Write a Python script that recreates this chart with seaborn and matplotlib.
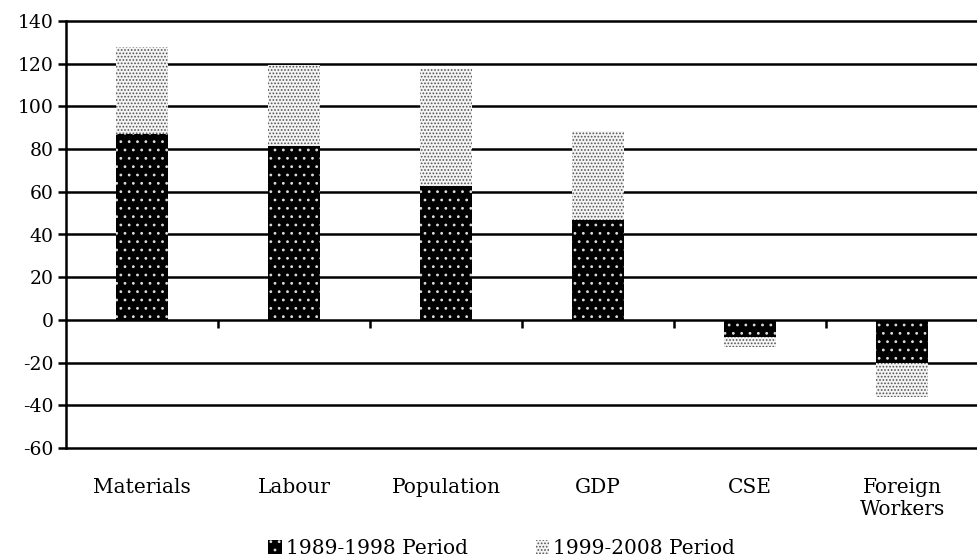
import numpy as np
import pandas as pd
import matplotlib
matplotlib.use("Agg")
import matplotlib.pyplot as plt
import seaborn as sns
from matplotlib.patches import Patch

# Chart data
categories = ["Materials", "Labour", "Population", "GDP", "CSE", "Foreign\nWorkers"]
period_1 = [87, 81.5, 62.5, 47, -8, -20]      # 1989-1998 Period
period_2 = [41, 38, 55, 41.5, -4.5, -16]      # 1999-2008 Period
y_ticks = list(range(-60, 141, 20))

df = pd.DataFrame({"category": categories, "p1": period_1, "p2": period_2})
df["total"] = df["p1"] + df["p2"]

sns.set_style("white")
plt.rcParams["font.family"] = ["DejaVu Serif"]
plt.rcParams["font.size"] = 13.5
plt.rcParams["text.color"] = "black"
plt.rcParams["xtick.color"] = "black"
plt.rcParams["ytick.color"] = "black"
plt.rcParams["axes.unicode_minus"] = False
plt.rcParams["hatch.linewidth"] = 0.8

fig = plt.figure(figsize=(9.78, 5.6), dpi=100)
ax = fig.add_axes([0.0675, 0.2, 0.9325, 0.7625])

# stacked look: draw the total first, then the first period over it
sns.barplot(data=df, x="category", y="total", width=0.34, color="#f4f4f4",
            edgecolor="#555555", linewidth=0, hatch=".....", ax=ax, zorder=3)
sns.barplot(data=df, x="category", y="p1", width=0.34, color="black",
            edgecolor="#dddddd", linewidth=0, hatch="..", ax=ax, zorder=4)
for p in ax.patches:
    p.set_linewidth(0)

ax.set_ylim(-60, 140)
ax.set_xlim(-0.5, len(categories) - 0.5)
ax.set_yticks(y_ticks)
ax.yaxis.grid(True, color="black", linewidth=1.8)
for gl in ax.get_ygridlines():
    gl.set_clip_on(False)
ax.set_axisbelow(True)
ax.set_xlabel("")
ax.set_ylabel("")

for side in ["top", "right", "bottom"]:
    ax.spines[side].set_visible(False)
ax.spines["left"].set_linewidth(1.8)
ax.spines["left"].set_color("black")

ax.tick_params(axis="y", length=6, width=1.8, color="black", left=True, pad=3,
               labelsize=13.5)
ax.tick_params(axis="x", length=0, pad=21.5, labelsize=14.5)

# small separator ticks on the zero line between categories
ax.vlines(np.arange(0.5, len(categories) - 0.5), -3.8, 0, color="black",
          linewidth=1.8, zorder=5)

handles = [Patch(facecolor="black", edgecolor="#dddddd", hatch="..", linewidth=0,
                 label="1989-1998 Period"),
           Patch(facecolor="#f4f4f4", edgecolor="#555555", hatch=".....", linewidth=0,
                 label="1999-2008 Period")]
fig.legend(handles=handles, loc="lower center", ncol=2, frameon=False,
           bbox_to_anchor=(0.513, -0.029), handlelength=0.65, handleheight=0.7,
           handletextpad=0.2, columnspacing=3.4, fontsize=14.5)

fig.savefig("out.png", dpi=100)
